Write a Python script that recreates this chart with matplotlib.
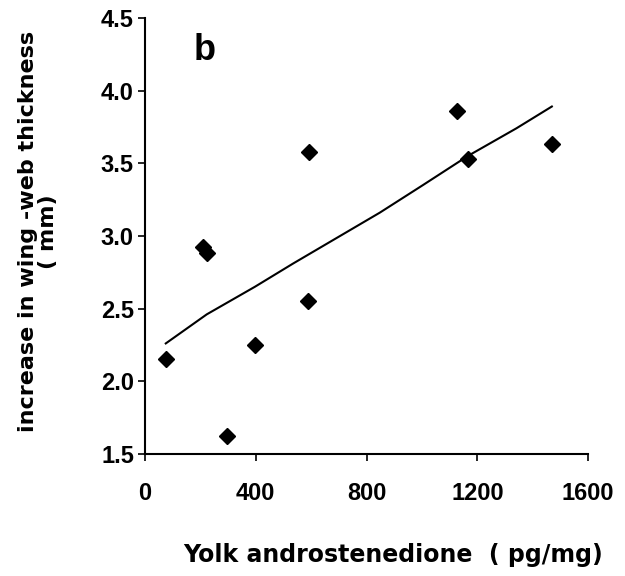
import numpy as np
import matplotlib.pyplot as plt

plt.rcParams['font.family'] = ['Liberation Sans', 'DejaVu Sans']
plt.rcParams['font.weight'] = 'bold'

# data
andro = [75, 211, 223, 295, 398, 587, 592, 1127, 1166, 1469]
thickness = [2.15, 2.92, 2.88, 1.62, 2.25, 2.55, 3.58, 3.86, 3.53, 3.63]

# trend line as drawn
trend_x = [75, 223, 397, 535, 848, 1004, 1166, 1341, 1469]
trend_y = [2.26, 2.46, 2.65, 2.81, 3.16, 3.35, 3.55, 3.74, 3.89]

xticks = [0, 400, 800, 1200, 1600]
yticks = [1.5, 2.0, 2.5, 3.0, 3.5, 4.0, 4.5]

fig = plt.figure(figsize=(6.25, 5.76), dpi=100)
ax = fig.add_axes([0.232, 0.212, 0.709, 0.757])

ax.plot(trend_x, trend_y, color='black', lw=1.5)
ax.plot(andro, thickness, 'D', color='black', markersize=8.5, clip_on=False)

ax.set_xlim(0, 1600)
ax.set_ylim(1.5, 4.5)
ax.set_xticks(xticks)
ax.set_yticks(yticks)
ax.set_xticklabels([str(t) for t in xticks])
ax.set_yticklabels(['%.1f' % t for t in yticks])
ax.tick_params(axis='both', labelsize=17, width=1.2, length=5, direction='out')
ax.tick_params(axis='x', pad=15)
ax.tick_params(axis='y', pad=3)

for s in ['top', 'right']:
    ax.spines[s].set_visible(False)
for s in ['left', 'bottom']:
    ax.spines[s].set_linewidth(1.5)

lab_font = ['DejaVu Sans']
ax.set_xlabel('Yolk androstenedione  ( pg/mg)', fontsize=17, fontweight='bold',
              family=lab_font)
ax.xaxis.set_label_coords(0.56, -0.205)
ax.set_ylabel('increase in wing -web thickness\n( mm)', fontsize=16, fontweight='bold',
              family=lab_font, linespacing=1.0)
ax.yaxis.set_label_coords(-0.197, 0.51)

ax.text(0.135, 0.925, 'b', transform=ax.transAxes, fontsize=26, fontweight='bold',
        ha='center', va='center')

fig.savefig('out.png', dpi=100)
